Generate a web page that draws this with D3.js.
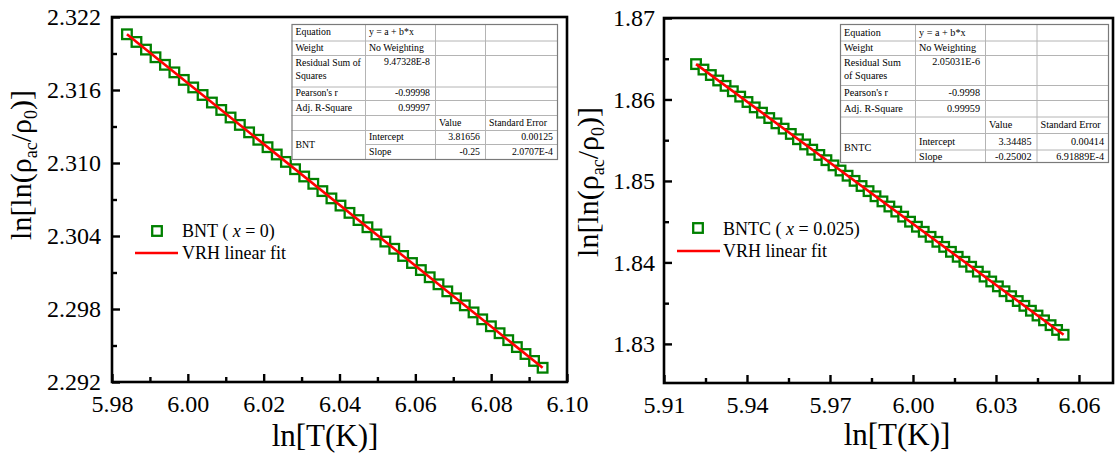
<!DOCTYPE html>
<html>
<head>
<meta charset="utf-8">
<script src="https://cdn.jsdelivr.net/npm/d3@7"></script>
<style>
  body { margin: 0; background: #fff; }
  svg { display: block; }
  text { font-family: "Liberation Serif", Tinos, "DejaVu Serif", "Times New Roman", serif; fill: #000; }
</style>
</head>
<body>
<svg id="chart" width="1116" height="454"></svg>
<script>
const SERIF = '"Liberation Serif", Tinos, "DejaVu Serif", "Times New Roman", serif';

// ---- BNT (x = 0): ln T and ln[ln(rho_ac/rho_0)] ----
const bntLnT = [5.98394, 5.98645, 5.98896, 5.99147, 5.99396, 5.99645, 5.99894, 6.00142, 6.00389, 6.00635,
  6.00881, 6.01127, 6.01372, 6.01616, 6.01859, 6.02102, 6.02345, 6.02587, 6.02828, 6.03069,
  6.03309, 6.03548, 6.03787, 6.04026, 6.04263, 6.04501, 6.04737, 6.04973, 6.05209, 6.05444,
  6.05678, 6.05912, 6.06146, 6.06379, 6.06611, 6.06843, 6.07074, 6.07305, 6.07535, 6.07764,
  6.07993, 6.08222, 6.08450, 6.08678, 6.08905, 6.09131, 6.09357];
const bntLnLnRho = [2.32058, 2.31995, 2.31932, 2.31869, 2.31807, 2.31745, 2.31683, 2.31621, 2.31559, 2.31497,
  2.31436, 2.31374, 2.31313, 2.31252, 2.31191, 2.31130, 2.31070, 2.31009, 2.30949, 2.30889,
  2.30829, 2.30769, 2.30709, 2.30650, 2.30590, 2.30531, 2.30472, 2.30413, 2.30354, 2.30295,
  2.30236, 2.30178, 2.30120, 2.30061, 2.30003, 2.29945, 2.29888, 2.29830, 2.29772, 2.29715,
  2.29658, 2.29601, 2.29544, 2.29487, 2.29430, 2.29373, 2.29317];
const bntIntercept = 3.81656;
const bntSlope = -0.25;

// ---- BNTC (x = 0.025) ----
const bntcLnT = [5.92158, 5.92426, 5.92693, 5.92959, 5.93225, 5.93489, 5.93754, 5.94017, 5.94280, 5.94542,
  5.94804, 5.95064, 5.95324, 5.95584, 5.95843, 5.96101, 5.96358, 5.96615, 5.96871, 5.97126,
  5.97381, 5.97635, 5.97889, 5.98141, 5.98394, 5.98645, 5.98896, 5.99147, 5.99396, 5.99645,
  5.99894, 6.00142, 6.00389, 6.00635, 6.00881, 6.01127, 6.01372, 6.01616, 6.01859, 6.02102,
  6.02345, 6.02587, 6.02828, 6.03069, 6.03309, 6.03548, 6.03787, 6.04026, 6.04263, 6.04501,
  6.04737, 6.04973, 6.05209, 6.05444];
const bntcLnLnRho = [1.86434, 1.86367, 1.86300, 1.86233, 1.86167, 1.86101, 1.86035, 1.85969, 1.85903, 1.85838,
  1.85772, 1.85707, 1.85642, 1.85577, 1.85512, 1.85448, 1.85384, 1.85319, 1.85255, 1.85191,
  1.85128, 1.85064, 1.85001, 1.84938, 1.84875, 1.84812, 1.84749, 1.84686, 1.84624, 1.84562,
  1.84500, 1.84438, 1.84376, 1.84314, 1.84253, 1.84191, 1.84130, 1.84069, 1.84008, 1.83947,
  1.83887, 1.83826, 1.83766, 1.83706, 1.83646, 1.83586, 1.83526, 1.83467, 1.83407, 1.83348,
  1.83289, 1.83230, 1.83171, 1.83112];
const bntcIntercept = 3.34485;
const bntcSlope = -0.25002;

// ---- tick values ----
const bntXTicks = [5.98, 6.00, 6.02, 6.04, 6.06, 6.08, 6.10];
const bntXMinor = [5.99, 6.01, 6.03, 6.05, 6.07, 6.09];
const bntYTicks = [2.292, 2.298, 2.304, 2.310, 2.316, 2.322];
const bntYMinor = [2.295, 2.301, 2.307, 2.313, 2.319];
const bntcXTicks = [5.91, 5.94, 5.97, 6.00, 6.03, 6.06];
const bntcXMinor = [5.925, 5.955, 5.985, 6.015, 6.045];
const bntcYTicks = [1.83, 1.84, 1.85, 1.86, 1.87];
const bntcYMinor = [1.835, 1.845, 1.855, 1.865];

// ---- fit report tables ----
const bntTable = [
  ["Equation", "y = a + b*x", "", ""],
  ["Weight", "No Weighting", "", ""],
  ["Residual Sum of|Squares", "9.47328E-8", "", ""],
  ["Pearson's r", "-0.99998", "", ""],
  ["Adj. R-Square", "0.99997", "", ""],
  ["", "", "Value", "Standard Error"],
  ["BNT", "Intercept", "3.81656", "0.00125"],
  ["", "Slope", "-0.25", "2.0707E-4"]
];
const bntcTable = [
  ["Equation", "y = a + b*x", "", ""],
  ["Weight", "No Weighting", "", ""],
  ["Residual Sum|of Squares", "2.05031E-6", "", ""],
  ["Pearson's r", "-0.9998", "", ""],
  ["Adj. R-Square", "0.99959", "", ""],
  ["", "", "Value", "Standard Error"],
  ["BNTC", "Intercept", "3.34485", "0.00414"],
  ["", "Slope", "-0.25002", "6.91889E-4"]
];

const svg = d3.select("#chart");
svg.append("rect").attr("width", 1116).attr("height", 454).attr("fill", "#fff");

const GREEN = "#008000";
const RED = "#ff0000";

function drawPanel(cfg) {
  const x = d3.scaleLinear().domain(cfg.xDomain).range([cfg.left, cfg.right]);
  const y = d3.scaleLinear().domain(cfg.yDomain).range([cfg.bottom, cfg.top]);
  const g = svg.append("g").attr("font-family", SERIF);

  const styleAxis = sel => {
    sel.select(".domain").remove();
    sel.attr("font-size", 24).attr("font-family", SERIF);
    sel.selectAll(".tick line").attr("stroke", "#000").attr("stroke-width", 2.4);
    sel.selectAll(".tick text").attr("fill", "#000");
  };

  // minor ticks (inward)
  g.append("g").attr("transform", `translate(0,${cfg.bottom})`)
    .call(d3.axisBottom(x).tickValues(cfg.xMinor).tickSize(-5).tickSizeOuter(0).tickFormat(""))
    .call(styleAxis);
  g.append("g").attr("transform", `translate(${cfg.left},0)`)
    .call(d3.axisLeft(y).tickValues(cfg.yMinor).tickSize(-5).tickSizeOuter(0).tickFormat(""))
    .call(styleAxis);

  // major ticks with labels
  g.append("g").attr("transform", `translate(0,${cfg.bottom})`)
    .call(d3.axisBottom(x).tickValues(cfg.xTicks).tickSize(-8).tickSizeOuter(0)
      .tickPadding(13).tickFormat(d3.format(".2f")))
    .call(styleAxis);
  g.append("g").attr("transform", `translate(${cfg.left},0)`)
    .call(d3.axisLeft(y).tickValues(cfg.yTicks).tickSize(-8).tickSizeOuter(0)
      .tickPadding(cfg.yPad).tickFormat(d3.format(cfg.yFormat)))
    .call(styleAxis);

  // frame
  g.append("rect")
    .attr("x", cfg.left).attr("y", cfg.top)
    .attr("width", cfg.right - cfg.left).attr("height", cfg.bottom - cfg.top)
    .attr("fill", "none").attr("stroke", "#000").attr("stroke-width", 2.6);

  // data points
  const pts = d3.zip(cfg.lnT, cfg.vals);
  g.append("g").selectAll("rect").data(pts).join("rect")
    .attr("x", d => x(d[0]) - 4.8).attr("y", d => y(d[1]) - 4.8)
    .attr("width", 9.6).attr("height", 9.6)
    .attr("fill", "#fff").attr("stroke", GREEN).attr("stroke-width", 2.3);

  // linear fit from the reported intercept and slope
  const xs = d3.extent(cfg.lnT);
  g.append("line")
    .attr("x1", x(xs[0])).attr("y1", y(cfg.intercept + cfg.slope * xs[0]))
    .attr("x2", x(xs[1])).attr("y2", y(cfg.intercept + cfg.slope * xs[1]))
    .attr("stroke", RED).attr("stroke-width", 2.6);

  // axis titles
  g.append("text").attr("x", cfg.xTitleX).attr("y", cfg.xTitleY)
    .attr("text-anchor", "middle").attr("font-size", 31).text("ln[T(K)]");

  const yt = g.append("text")
    .attr("transform", `translate(${cfg.yTitleX},${cfg.yTitleY}) rotate(-90)`)
    .attr("text-anchor", "middle").attr("font-size", 30);
  yt.append("tspan").text("ln[ln(ρ");
  yt.append("tspan").attr("dy", 6).attr("font-size", 18).text("ac");
  yt.append("tspan").attr("dy", -6).text("/ρ");
  yt.append("tspan").attr("dy", 6).attr("font-size", 18).text("0");
  yt.append("tspan").attr("dy", -6).text(")]");

  // legend
  const lg = g.append("g");
  lg.append("rect")
    .attr("x", cfg.legSq[0] - 4.8).attr("y", cfg.legSq[1] - 4.8)
    .attr("width", 9.6).attr("height", 9.6)
    .attr("fill", "#fff").attr("stroke", GREEN).attr("stroke-width", 2.3);
  const t1 = lg.append("text").attr("x", cfg.legTextX).attr("y", cfg.legY1).attr("font-size", 18);
  t1.append("tspan").text(cfg.name + " ( ");
  t1.append("tspan").attr("font-style", "italic").text("x");
  t1.append("tspan").text(" = " + cfg.doping + ")");
  lg.append("line")
    .attr("x1", cfg.legLine[0]).attr("x2", cfg.legLine[1])
    .attr("y1", cfg.legLine[2]).attr("y2", cfg.legLine[2])
    .attr("stroke", RED).attr("stroke-width", 2.6);
  lg.append("text").attr("x", cfg.legTextX).attr("y", cfg.legY2).attr("font-size", 18).text("VRH linear fit");

  drawTable(cfg.table, cfg.tCols, cfg.tRows, cfg.tFont);
}

function drawTable(rows, cols, rowY, fontSize) {
  const g = svg.append("g").attr("font-family", SERIF);
  const left = cols[0], right = cols[cols.length - 1];
  const top = rowY[0], bottom = rowY[rowY.length - 1];
  g.append("rect").attr("x", left).attr("y", top)
    .attr("width", right - left).attr("height", bottom - top)
    .attr("fill", "#fff");

  // horizontal rules
  for (let i = 1; i < rowY.length - 1; i++) {
    const x0 = (i === rowY.length - 2) ? cols[1] : left;
    g.append("line").attr("x1", x0).attr("x2", right)
      .attr("y1", rowY[i] + 0.5).attr("y2", rowY[i] + 0.5)
      .attr("stroke", "#b4b4b4").attr("stroke-width", 1);
  }
  // vertical rules
  for (let j = 1; j < cols.length - 1; j++) {
    g.append("line").attr("x1", cols[j] + 0.5).attr("x2", cols[j] + 0.5)
      .attr("y1", top).attr("y2", bottom)
      .attr("stroke", "#b4b4b4").attr("stroke-width", 1);
  }
  g.append("rect").attr("x", left + 0.5).attr("y", top + 0.5)
    .attr("width", right - left - 1).attr("height", bottom - top - 1)
    .attr("fill", "none").attr("stroke", "#7a7a7a").attr("stroke-width", 1.2);

  const rightAligned = (r, c) => (c === 1 && r >= 2 && r <= 4) || (c >= 2 && r >= 6);
  rows.forEach((row, r) => {
    row.forEach((cell, c) => {
      if (!cell) return;
      let yTop = rowY[r];
      let h = rowY[r + 1] - rowY[r];
      if (r === 6 && c === 0) h = rowY[8] - rowY[6];
      const lines = cell.split("|");
      const ra = rightAligned(r, c);
      const tx = g.append("text")
        .attr("font-size", fontSize)
        .attr("text-anchor", ra ? "end" : "start")
        .attr("x", ra ? cols[c + 1] - 5 : cols[c] + 4);
      if (lines.length > 1) {
        lines.forEach((ln, k) => {
          tx.append("tspan").attr("x", ra ? cols[c + 1] - 5 : cols[c] + 4)
            .attr("y", yTop + 11 + k * 13).text(ln);
        });
      } else if (r === 2) {
        tx.attr("y", yTop + 10).text(cell);
      } else {
        tx.attr("y", yTop + h / 2 + fontSize * 0.33).text(cell);
      }
    });
  });
}

drawPanel({
  left: 112, right: 567, top: 17, bottom: 382,
  xDomain: [5.98, 6.10], yDomain: [2.292, 2.322],
  xTicks: bntXTicks, xMinor: bntXMinor, yTicks: bntYTicks, yMinor: bntYMinor,
  yFormat: ".3f", yPad: 11,
  lnT: bntLnT, vals: bntLnLnRho, intercept: bntIntercept, slope: bntSlope,
  xTitleX: 325, xTitleY: 446, yTitleX: 31, yTitleY: 165,
  name: "BNT", doping: "0",
  legSq: [157, 231], legTextX: 182, legY1: 237, legLine: [135, 178, 253], legY2: 259,
  table: bntTable,
  tCols: [291.5, 365, 435, 485, 558],
  tRows: [24, 40.5, 55, 86.5, 100, 115, 130, 144, 160],
  tFont: 9.8
});

drawPanel({
  left: 664, right: 1113, top: 18, bottom: 383,
  xDomain: [5.91, 6.0723], yDomain: [1.8252, 1.87],
  xTicks: bntcXTicks, xMinor: bntcXMinor, yTicks: bntcYTicks, yMinor: bntcYMinor,
  yFormat: ".2f", yPad: 9,
  lnT: bntcLnT, vals: bntcLnLnRho, intercept: bntcIntercept, slope: bntcSlope,
  xTitleX: 897, xTitleY: 445, yTitleX: 598, yTitleY: 182,
  name: "BNTC", doping: "0.025",
  legSq: [698, 228], legTextX: 723, legY1: 235, legLine: [677, 720, 251], legY2: 257,
  table: bntcTable,
  tCols: [840, 915, 985, 1036.5, 1109],
  tRows: [24, 40.5, 55, 85, 100, 116.5, 133, 149.5, 163],
  tFont: 10.2
});
</script>
</body>
</html>
